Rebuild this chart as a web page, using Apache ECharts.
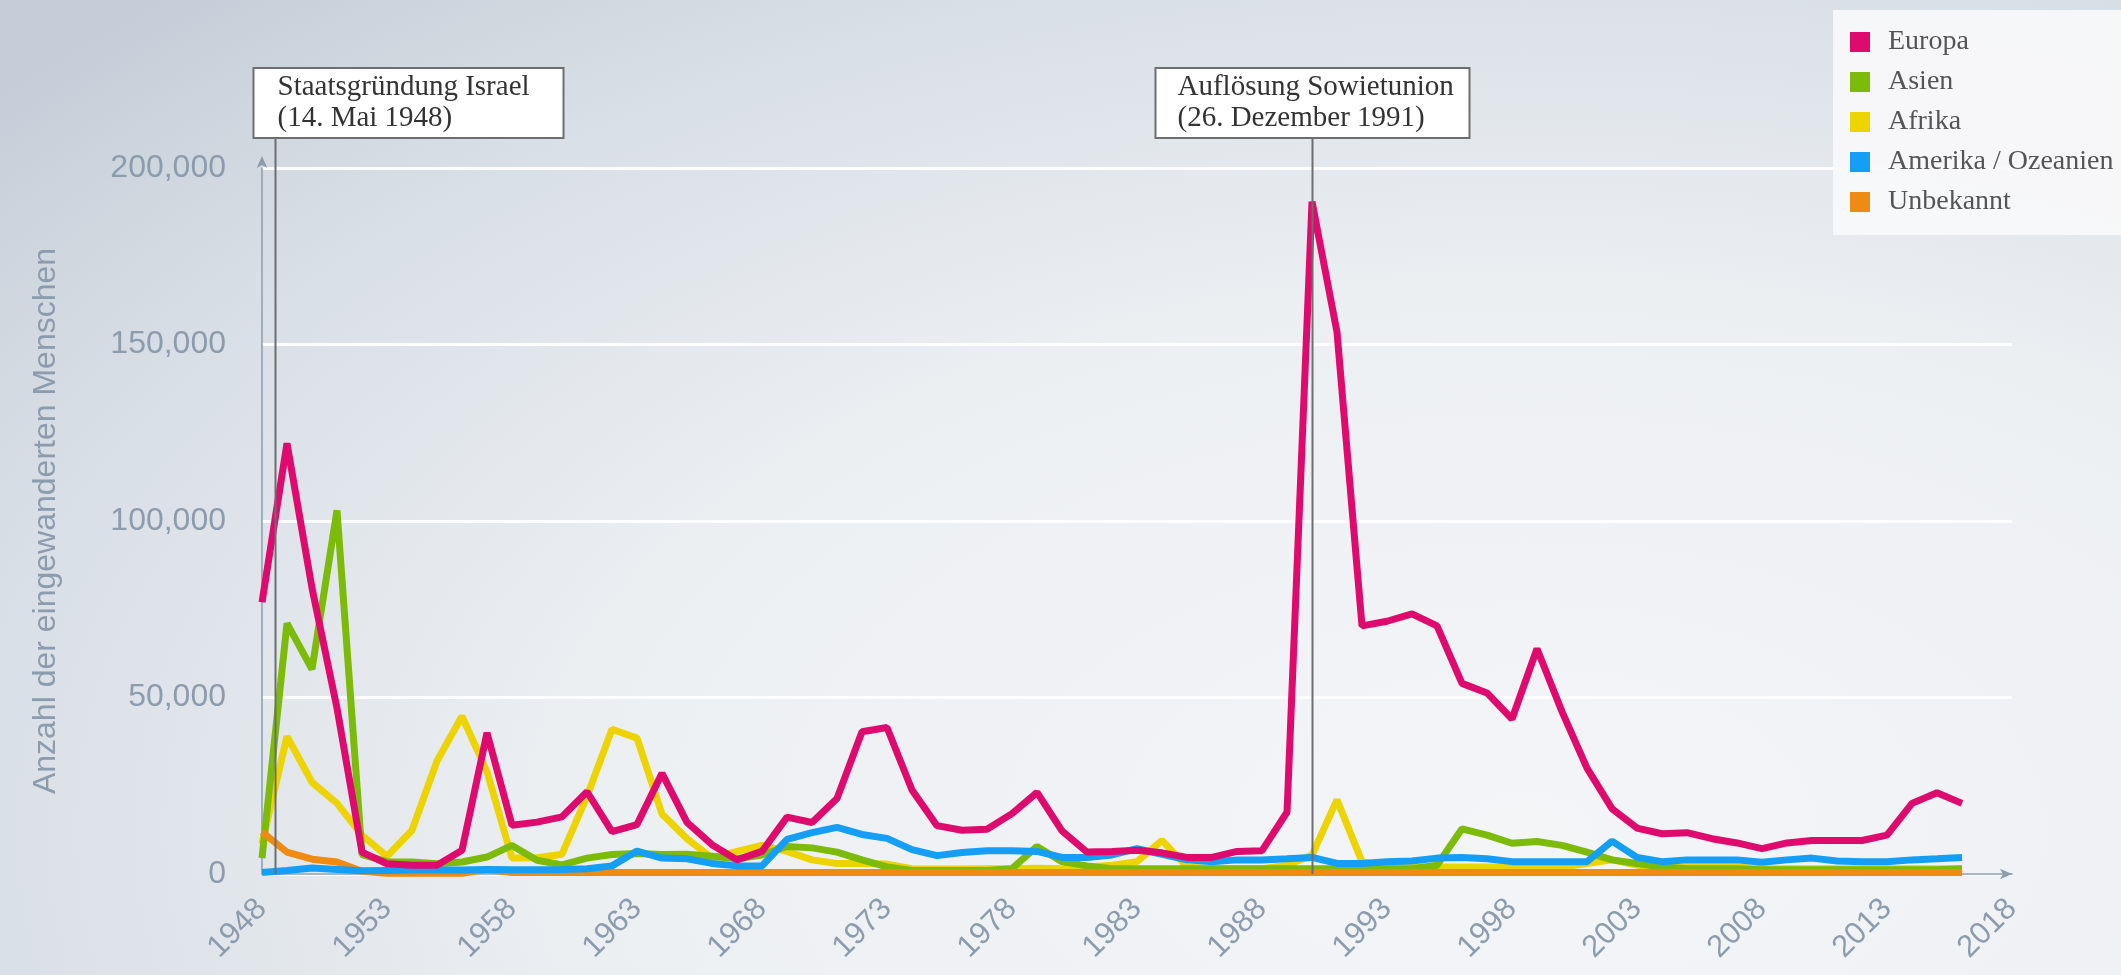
<!DOCTYPE html>
<html lang="de">

<head>
  <meta charset="UTF-8">
  <title>Einwanderung nach Israel nach Herkunft</title>
  <script src="https://cdn.jsdelivr.net/npm/echarts@6/dist/echarts.min.js"></script>
  <style>
    html,
    body {
      margin: 0;
      padding: 0;
      width: 100%;
      height: 100%;
      overflow: hidden;
      /* heller Verlauf, oben links dunkler */
      background: radial-gradient(ellipse 95% 115% at 72% 85%, #f3f5f7 0%, #edf0f3 45%, #d9dfe6 78%, #c5ced8 100%);
    }

    #chart {
      width: 2121px;
      height: 975px;
    }
  </style>
</head>

<body>
  <div id="chart"></div>

  <script>
    // --- Daten (Jahre 1948 bis 2016) ---
    const firstYear = 1948;
    const yearTicks = [1948, 1953, 1958, 1963, 1968, 1973, 1978, 1983, 1988, 1993, 1998, 2003, 2008, 2013, 2018];
    const valueTicks = [0, 50000, 100000, 150000, 200000];

    const europa = [
      77000, 122000, 81000, 47000, 6200, 2900, 2500, 2500, 6700, 40000,
      13800, 14700, 16200, 23300, 12000, 14000, 28500, 14600, 8300, 4000,
      6400, 16100, 14600, 21400, 40300, 41500, 23800, 13700, 12400, 12700,
      17100, 23100, 12200, 6200, 6400, 6700, 6000, 4700, 4700, 6400,
      6600, 17500, 190500, 153500, 70300, 71600, 73700, 70300, 54000, 51300,
      43900, 63800, 46000, 30000, 18500, 13000, 11400, 11700, 10000, 8800,
      7200, 8800, 9500, 9500, 9500, 11000, 20000, 23000, 20000
    ];
    const asien = [
      4500, 71000, 58000, 103000, 5500, 3500, 3400, 2900, 3400, 4800,
      8100, 3900, 2600, 4500, 5500, 5800, 5500, 5600, 5000, 4300,
      5400, 7800, 7400, 6200, 4000, 2000, 1000, 1000, 1000, 1000,
      1500, 7800, 3500, 2300, 1500, 1500, 1500, 1500, 1500, 1500,
      1500, 1500, 1500, 1500, 1500, 1500, 1500, 2500, 12800, 11000,
      8700, 9200, 8100, 6200, 4000, 3000, 2000, 1500, 1500, 1500,
      1200, 1200, 1200, 1200, 1200, 1200, 1200, 1200, 1500
    ];
    const afrika = [
      8500, 39000, 26000, 20000, 11000, 5000, 12400, 32000, 44700, 29000,
      4500, 4600, 5600, 22000, 41000, 38500, 17000, 10000, 4500, 6400,
      8100, 6400, 4000, 3000, 3000, 2800, 1500, 1400, 1400, 1500,
      1500, 1600, 1500, 2000, 2500, 3500, 9500, 2000, 1500, 1500,
      1500, 2500, 5400, 21000, 3500, 2000, 2000, 2000, 2000, 2000,
      2000, 2000, 2000, 3000, 4000, 2500, 2000, 2000, 2000, 2000,
      1500, 1500, 1500, 1500, 1500, 1500, 1500, 1500, 1500
    ];
    const amerika = [
      400, 1000, 1700, 1300, 900, 1000, 1100, 1100, 1100, 1300,
      1200, 1200, 1300, 1500, 2300, 6500, 4500, 4300, 3000, 2300,
      2300, 9800, 11700, 13200, 11200, 10100, 6900, 5200, 6100, 6600,
      6600, 6400, 4700, 4700, 5400, 7200, 5600, 4000, 3500, 4000,
      4000, 4300, 4700, 3000, 3000, 3500, 3700, 4500, 4700, 4300,
      3500, 3500, 3500, 3500, 9300, 4700, 3500, 4000, 4000, 4000,
      3300, 4000, 4500, 3700, 3500, 3500, 4000, 4300, 4700
    ];
    const unbekannt = [
      11900, 6200, 4200, 3400, 800, 200, 200, 200, 200, 1300,
      400, 400, 400, 400, 400, 400, 400, 400, 400, 400,
      400, 400, 400, 400, 400, 400, 400, 400, 400, 400,
      400, 400, 400, 400, 400, 400, 400, 400, 400, 400,
      400, 400, 400, 400, 400, 400, 400, 400, 400, 400,
      400, 400, 400, 400, 400, 400, 400, 400, 400, 400,
      400, 400, 400, 400, 400, 400, 400, 400, 400
    ];

    const seriesNames = ['Europa', 'Asien', 'Afrika', 'Amerika / Ozeanien', 'Unbekannt'];
    const seriesColors = ['#df0a6e', '#7cbb0a', '#edd300', '#149ef5', '#ef8a12'];
    // Ereignisse: Position auf der Zeitachse und Beschriftung
    const eventYears = [1948.5, 1990];
    const eventLabels = ['Staatsgründung Israel\n(14. Mai 1948)', 'Auflösung Sowietunion\n(26. Dezember 1991)'];

    document.addEventListener('DOMContentLoaded', function () {
      const chartDom = document.getElementById('chart');
      const myChart = echarts.init(chartDom);

      const axisColor = '#8a9cae';
      const sansFont = '"Liberation Sans", Arial, sans-serif';
      const serifFont = '"Liberation Serif", "Times New Roman", serif';

      const toPairs = (values) => values.map((v, i) => [firstYear + i, v]);
      const seriesData = [europa, asien, afrika, amerika, unbekannt];
      // Zeichenreihenfolge: Europa oben, Afrika unten
      const seriesZ = [6, 3, 2, 5, 4];

      const chartOption = {
        backgroundColor: 'transparent',
        animation: false,
        grid: { left: 262, top: 168, width: 1750, height: 706 },
        legend: {
          data: seriesNames,
          orient: 'vertical',
          left: 1833,
          top: 10,
          padding: [17, 60, 18, 17],
          backgroundColor: 'rgba(248, 249, 250, 0.92)',
          icon: 'rect',
          itemWidth: 20,
          itemHeight: 20,
          itemGap: 10,
          textStyle: { fontFamily: serifFont, fontSize: 28, color: '#555', lineHeight: 30, padding: [0, 0, 0, 13] },
        },
        xAxis: {
          type: 'value',
          min: 1948,
          max: 2018,
          interval: 1,
          axisLine: {
            show: true,
            symbol: ['none', 'arrow'],
            symbolSize: [8, 12],
            lineStyle: { color: axisColor, width: 1.5 },
          },
          axisTick: { show: false },
          splitLine: { show: false },
          axisLabel: {
            rotate: 45,
            margin: 30,
            fontSize: 31,
            fontFamily: sansFont,
            color: axisColor,
            formatter: (v) => (yearTicks.includes(v) ? String(v) : ''),
          },
        },
        yAxis: {
          type: 'value',
          min: valueTicks[0],
          max: valueTicks[valueTicks.length - 1],
          interval: valueTicks[1] - valueTicks[0],
          name: 'Anzahl der eingewanderten Menschen',
          nameLocation: 'middle',
          nameGap: 200,
          nameTextStyle: { fontFamily: sansFont, fontSize: 32, color: axisColor },
          axisLine: {
            show: true,
            symbol: ['none', 'arrow'],
            symbolSize: [8, 12],
            symbolOffset: [0, 12],
            lineStyle: { color: axisColor, width: 1.5 },
          },
          axisTick: { show: false },
          axisLabel: {
            margin: 36,
            fontSize: 32,
            fontFamily: sansFont,
            color: axisColor,
            formatter: (v) => String(v).replace(/\B(?=(\d{3})+(?!\d))/g, ','),
          },
          splitLine: { lineStyle: { color: 'rgba(255, 255, 255, 0.9)', width: 3 } },
        },
        series: seriesNames.map((name, i) => ({
          name: name,
          type: 'line',
          data: toPairs(seriesData[i]),
          showSymbol: false,
          clip: false,
          z: seriesZ[i],
          color: seriesColors[i],
          lineStyle: { width: 7, color: seriesColors[i] },
        })),
      };

      myChart.setOption(chartOption);

      /** Ereignis-Markierungen: Linie bis zur Achse plus Kasten */
      const drawEvents = () => {
        const zeroY = myChart.convertToPixel({ yAxisIndex: 0 }, 0);
        const boxTop = 68, boxH = 70;
        const boxOffset = [22, 157];
        const boxWidth = [310, 314];
        const textPad = [24, 22];
        const graphics = [];
        eventYears.forEach((year, i) => {
          const x = Math.round(myChart.convertToPixel({ xAxisIndex: 0 }, year)) + 0.5;
          const left = x - boxOffset[i];
          graphics.push({
            type: 'line', z: 100,
            shape: { x1: x, y1: boxTop + boxH, x2: x, y2: zeroY },
            style: { stroke: '#6e6e6e', lineWidth: 2 },
          });
          graphics.push({
            type: 'rect', z: 100,
            shape: { x: left, y: boxTop, width: boxWidth[i], height: boxH },
            style: { fill: '#ffffff', stroke: '#6e6e6e', lineWidth: 2 },
          });
          graphics.push({
            type: 'text', z: 101,
            x: left + textPad[i], y: boxTop + boxH / 2,
            style: {
              text: eventLabels[i],
              font: '29px ' + serifFont,
              fill: '#333',
              lineHeight: 31,
              align: 'left',
              verticalAlign: 'middle',
            },
          });
        });
        myChart.setOption({ graphic: graphics });
      };
      drawEvents();

      window.addEventListener('resize', function () {
        myChart.resize();
        drawEvents();
      });
    });
  </script>
</body>

</html>
